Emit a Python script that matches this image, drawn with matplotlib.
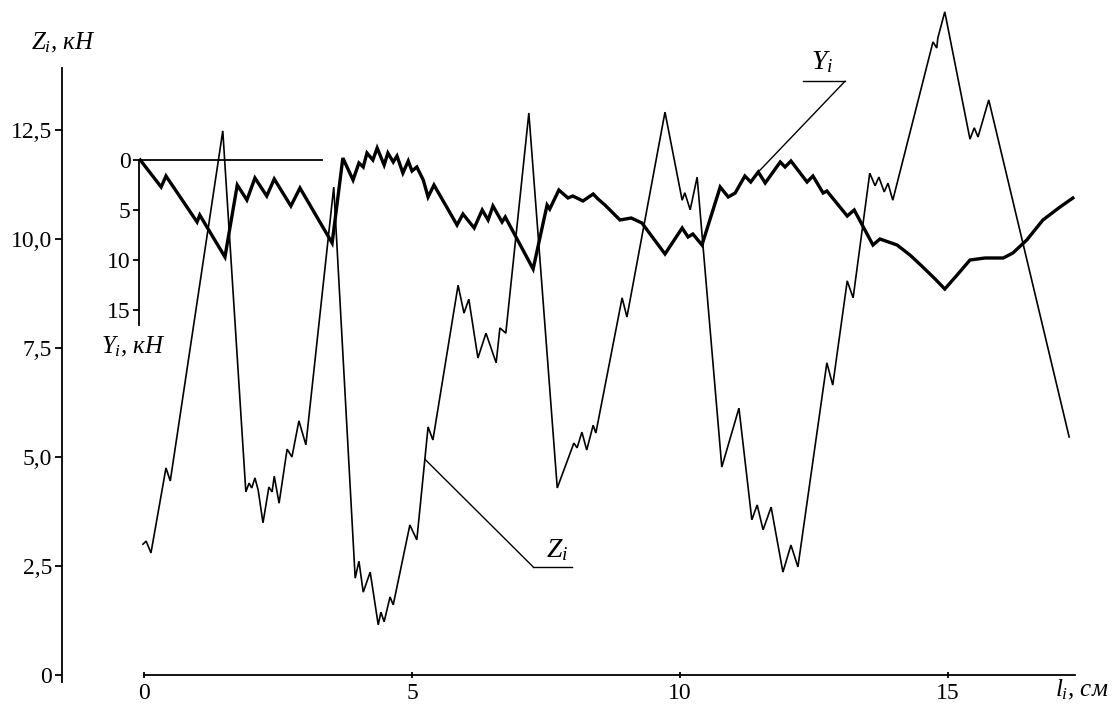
import matplotlib
matplotlib.use("Agg")
import matplotlib.pyplot as plt
import numpy as np

plt.rcParams.update({
    "font.family": ["Liberation Serif", "DejaVu Serif"],
    "mathtext.fontset": "custom",
    "mathtext.rm": "Liberation Serif",
    "mathtext.it": "Liberation Serif:italic",
    "font.size": 17,
})

# ---- data: path length l_i (cm) vs loads -----------------------------------------
z_l = [-0.02, 0.04, 0.13, 0.41, 0.49, 1.47, 1.90, 1.96, 2.01, 2.07, 2.13, 2.22,
       2.33, 2.39, 2.43, 2.52, 2.67, 2.76, 2.89, 3.02, 3.54, 3.94, 4.01, 4.09,
       4.22, 4.37, 4.42, 4.48, 4.59, 4.65, 4.96, 5.09, 5.30, 5.39, 5.86, 5.97,
       6.06, 6.23, 6.38, 6.57, 6.64, 6.75, 7.18, 7.71, 8.02, 8.08, 8.17, 8.26,
       8.38, 8.43, 8.92, 9.01, 9.72, 10.04, 10.09, 10.19, 10.32, 10.78, 11.10,
       11.34, 11.44, 11.55, 11.70, 11.92, 12.07, 12.20, 12.74, 12.85, 13.12,
       13.23, 13.54, 13.64, 13.71, 13.81, 13.88, 13.97, 14.72, 14.79, 14.81,
       14.94, 15.41, 15.49, 15.56, 15.76, 17.26]
z_val = [3.00, 3.07, 2.80, 4.75, 4.45, 12.48, 4.20, 4.40, 4.29, 4.52, 4.24, 3.49,
         4.31, 4.20, 4.56, 3.94, 5.18, 5.00, 5.83, 5.28, 11.19, 2.22, 2.61, 1.90,
         2.36, 1.15, 1.44, 1.22, 1.79, 1.61, 3.44, 3.10, 5.69, 5.39, 8.94, 8.30,
         8.62, 7.27, 7.84, 7.16, 7.96, 7.84, 12.89, 4.29, 5.32, 5.21, 5.57, 5.16,
         5.73, 5.55, 8.65, 8.21, 12.91, 10.89, 11.06, 10.67, 11.42, 4.77, 6.12,
         3.56, 3.90, 3.33, 3.85, 2.36, 2.98, 2.48, 7.16, 6.65, 9.04,
         8.65, 11.51, 11.22, 11.42, 11.08, 11.28, 10.89, 14.52, 14.38, 14.61,
         15.21, 12.29, 12.55, 12.34, 13.19, 5.46]

y_l = [-0.07, 0.32, 0.41, 0.99, 1.04, 1.51, 1.74, 1.92, 2.07, 2.29, 2.43, 2.74,
       2.91, 3.51, 3.71, 3.90, 4.01, 4.09, 4.16, 4.27, 4.35, 4.48, 4.55, 4.65,
       4.72, 4.83, 4.93, 5.00, 5.09, 5.21, 5.30, 5.41, 5.84, 5.95, 6.16, 6.31,
       6.42, 6.51, 6.68, 6.74, 7.26, 7.52, 7.57, 7.74, 7.91, 8.00, 8.19, 8.38,
       8.47, 8.60, 8.88, 9.09, 9.29, 9.72, 10.04, 10.15, 10.24, 10.41, 10.75,
       10.90, 11.03, 11.21, 11.32, 11.46, 11.59, 11.87, 11.96, 12.07, 12.37,
       12.48, 12.67, 12.74, 13.12, 13.25, 13.60, 13.73, 14.05, 14.29, 14.53,
       14.76, 14.94, 15.17, 15.41, 15.69, 16.03, 16.21, 16.47, 16.77, 17.09, 17.33]
y_val = [0.0, 2.7, 1.6, 6.2, 5.5, 9.7, 2.5, 4.0, 1.8, 3.6, 1.9, 4.6,
         2.8, 8.3, -0.2, 2.0, 0.3, 0.7, -0.7, 0.0, -1.2, 0.5, -0.7, 0.2,
         -0.4, 1.3, 0.1, 1.1, 0.7, 2.0, 3.7, 2.5, 6.5, 5.4, 6.8, 5.0,
         6.0, 4.6, 6.2, 5.7, 10.9, 4.5, 4.9, 3.0, 3.8, 3.6, 4.1, 3.4,
         3.9, 4.5, 6.0, 5.8, 6.3, 9.4, 6.8, 7.7, 7.4, 8.5, 2.7,
         3.7, 3.3, 1.6, 2.2, 1.2, 2.3, 0.2, 0.7, 0.1, 2.2,
         1.6, 3.3, 3.1, 5.6, 5.0, 8.5, 7.9, 8.5, 9.5, 10.7,
         11.9, 12.9, 11.5, 10.0, 9.8, 9.8, 9.3, 8.0, 6.0, 4.7, 3.8]

z_ticks = [0, 2.5, 5.0, 7.5, 10.0, 12.5]
z_ticklabels = ["0", "2,5", "5,0", "7,5", "10,0", "12,5"]
y_ticks = [0, 5, 10, 15]
l_ticks = [0, 5, 10, 15]

fig = plt.figure(figsize=(11.16, 7.11), dpi=100)

# main axes: Z_i (kN) against l_i (cm)
ax = fig.add_axes([0, 0, 1, 1])
ax.patch.set_visible(False)
ax.set_xlim(-144 / 53.6, (1116 - 144) / 53.6)
ax.set_ylim(-36 / 43.6, 675 / 43.6)
for s in ("top", "right"):
    ax.spines[s].set_visible(False)
ax.spines["left"].set_position(("data", -1.53))
ax.spines["left"].set_bounds(-0.16, 13.92)
ax.spines["bottom"].set_position(("data", 0))
ax.spines["bottom"].set_bounds(0, 17.37)
for s in ("left", "bottom"):
    ax.spines[s].set_linewidth(1.3)
ax.set_yticks(z_ticks)
ax.set_yticklabels(z_ticklabels)
ax.set_xticks(l_ticks)
ax.tick_params(axis="y", direction="out", length=5, width=1.3, pad=2, labelsize=17)
ax.tick_params(axis="x", direction="inout", length=4, width=1.3, pad=4, labelsize=17)

ax.plot(z_l, z_val, color="black", lw=1.2, solid_joinstyle="miter")

# inset scale: Y_i (kN), downward
ax2 = fig.add_axes([0, 0, 1, 1], sharex=ax)
ax2.patch.set_visible(False)
ax2.set_ylim(55.1, -16.0)
for s in ("bottom", "right"):
    ax2.spines[s].set_visible(False)
ax2.spines["left"].set_position(("data", -0.093))
ax2.spines["left"].set_bounds(0, 16.5)
ax2.spines["top"].set_position(("data", 0))
ax2.spines["top"].set_bounds(-0.093, 3.32)
for s in ("left", "top"):
    ax2.spines[s].set_linewidth(1.3)
ax2.set_yticks(y_ticks)
ax2.tick_params(axis="y", direction="out", length=4, width=1.3, pad=2, labelsize=17)
ax2.tick_params(axis="x", bottom=False, top=False, labelbottom=False, labeltop=False)

ax2.plot(y_l, y_val, color="black", lw=2.4, solid_joinstyle="miter")

# axis titles
ax.text(-2.11, 14.5, r"$Z_i$, кН", style="italic", fontsize=18, ha="left", va="center")
ax2.text(-0.80, 18.7, r"$Y_i$, кН", style="italic", fontsize=18, ha="left", va="center")
ax.text(17.0, -0.34, r"$l_i$, см", style="italic", fontsize=18, ha="left", va="center")

# curve callouts
lz = 5.24
ax.annotate("", xy=(lz, np.interp(lz, z_l, z_val)), xytext=(7.26, 2.48),
            arrowprops=dict(arrowstyle="-", lw=1.0, color="black", shrinkA=0, shrinkB=0))
ax.plot([7.26, 7.99], [2.48, 2.48], color="black", lw=1.0)
ax.text(7.70, 2.87, r"$Z_i$", fontsize=20, ha="center", va="center")

ly = 11.46
ax2.annotate("", xy=(ly, np.interp(ly, y_l, y_val)), xycoords=ax2.transData,
             xytext=(13.08, 13.62), textcoords=ax.transData,
             arrowprops=dict(arrowstyle="-", lw=1.0, color="black", shrinkA=0, shrinkB=0))
ax.plot([12.29, 13.08], [13.62, 13.62], color="black", lw=1.0)
ax.text(12.65, 14.05, r"$Y_i$", fontsize=20, ha="center", va="center")

fig.savefig("out.png", dpi=100)
